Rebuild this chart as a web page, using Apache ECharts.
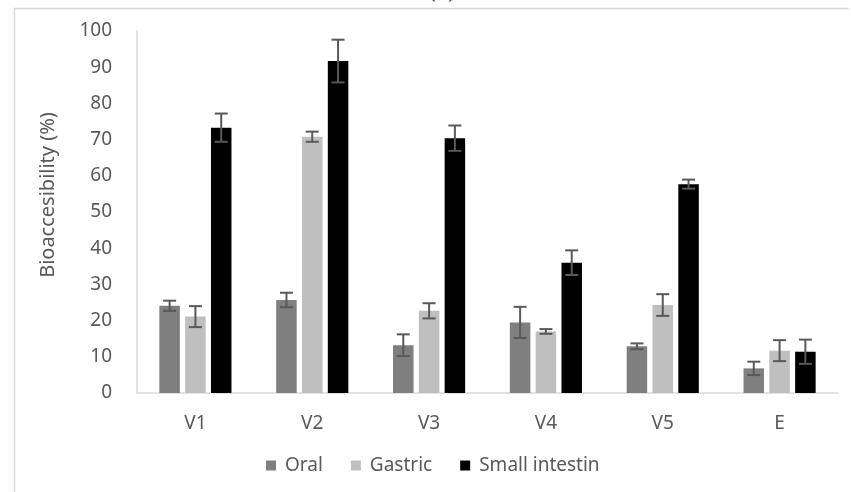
<!DOCTYPE html>
<html>
<head>
<meta charset="utf-8">
<script src="https://cdn.jsdelivr.net/npm/echarts@6/dist/echarts.min.js"></script>
<style>html,body{margin:0;padding:0;background:#fff}#c{width:851px;height:492px}</style>
</head>
<body>
<div id="c"></div>
<script>
const categories = ['V1', 'V2', 'V3', 'V4', 'V5', 'E'];
const seriesNames = ['Oral', 'Gastric', 'Small intestin'];
const oralValues = [24.1, 25.7, 13.2, 19.5, 12.9, 6.8];
const oralErrors = [1.4, 2.0, 3.0, 4.3, 0.8, 1.85];
const gastricValues = [21.1, 70.8, 22.7, 17.0, 24.3, 11.7];
const gastricErrors = [2.9, 1.4, 2.1, 0.65, 3.0, 2.9];
const smallValues = [73.3, 91.7, 70.4, 36.0, 57.7, 11.4];
const smallErrors = [3.9, 5.9, 3.5, 3.4, 1.25, 3.35];
const yTicks = [0, 10, 20, 30, 40, 50, 60, 70, 80, 90, 100];

const colors = ['#7f7f7f', '#bfbfbf', '#000000'];
const values = [oralValues, gastricValues, smallValues];
const errors = [oralErrors, gastricErrors, smallErrors];
const BAR_W = 20.5, GAP = 5.3;
const FONT = 'Noto Sans';

const chart = echarts.init(document.getElementById('c'), null, {renderer: 'canvas'});

const barSeries = values.map((v, i) => ({
  name: seriesNames[i],
  type: 'bar',
  data: v,
  barWidth: BAR_W,
  barGap: (GAP / BAR_W * 100).toFixed(1) + '%',
  itemStyle: {color: colors[i]},
  emphasis: {disabled: true}
}));

const errSeries = values.map((v, i) => ({
  type: 'custom',
  silent: true,
  z: 5,
  data: v.map((val, j) => [j, val, errors[i][j]]),
  renderItem: function (params, api) {
    const x = api.value(0), val = api.value(1), e = api.value(2);
    const hi = api.coord([x, val + e]);
    const lo = api.coord([x, val - e]);
    const off = (i - 1) * (BAR_W + GAP);
    const cx = hi[0] + off;
    const hw = 6.5;
    const st = {stroke: '#595959', lineWidth: 2};
    return {
      type: 'group',
      children: [
        {type: 'line', shape: {x1: cx, y1: hi[1], x2: cx, y2: lo[1]}, style: st},
        {type: 'line', shape: {x1: cx - hw, y1: hi[1], x2: cx + hw, y2: hi[1]}, style: st},
        {type: 'line', shape: {x1: cx - hw, y1: lo[1], x2: cx + hw, y2: lo[1]}, style: st}
      ]
    };
  }
}));

chart.setOption({
  animation: false,
  backgroundColor: '#ffffff',
  textStyle: {fontFamily: FONT},
  title: {
    text: '(b)',
    left: 437,
    textAlign: 'center',
    top: -23,
    textStyle: {fontFamily: FONT, fontSize: 20, fontWeight: 'normal', color: '#404040'}
  },
  graphic: [
    {type: 'line', shape: {x1: 14, y1: 8.5, x2: 849, y2: 8.5}, style: {stroke: '#d9d9d9', lineWidth: 1.5}, silent: true},
    {type: 'line', shape: {x1: 14.5, y1: 8, x2: 14.5, y2: 492}, style: {stroke: '#d9d9d9', lineWidth: 1.5}, silent: true}
  ],
  legend: {
    data: seriesNames,
    left: 261,
    top: 451,
    itemWidth: 10,
    itemHeight: 10,
    itemGap: 28,
    icon: 'rect',
    textStyle: {fontFamily: FONT, fontSize: 19, color: '#595959', padding: [0, 0, 0, 4]}
  },
  grid: {left: 137, right: 13, top: 31, bottom: 99, containLabel: false},
  xAxis: {
    type: 'category',
    data: categories,
    axisLine: {show: true, lineStyle: {color: '#d9d9d9', width: 1.5}},
    axisTick: {show: false},
    axisLabel: {fontFamily: FONT, fontSize: 19, color: '#595959', margin: 21}
  },
  yAxis: {
    type: 'value',
    min: yTicks[0],
    max: yTicks[yTicks.length - 1],
    interval: 10,
    name: 'Bioaccesibility (%)',
    nameLocation: 'middle',
    nameGap: 79,
    nameRotate: 90,
    nameTextStyle: {fontFamily: FONT, fontSize: 20, color: '#595959', padding: [0, 0, 0, 34]},
    axisLine: {show: true, lineStyle: {color: '#d9d9d9', width: 1.5}},
    axisTick: {show: false},
    splitLine: {show: false},
    axisLabel: {fontFamily: FONT, fontSize: 19, color: '#595959', margin: 25}
  },
  series: barSeries.concat(errSeries)
});
</script>
</body>
</html>
